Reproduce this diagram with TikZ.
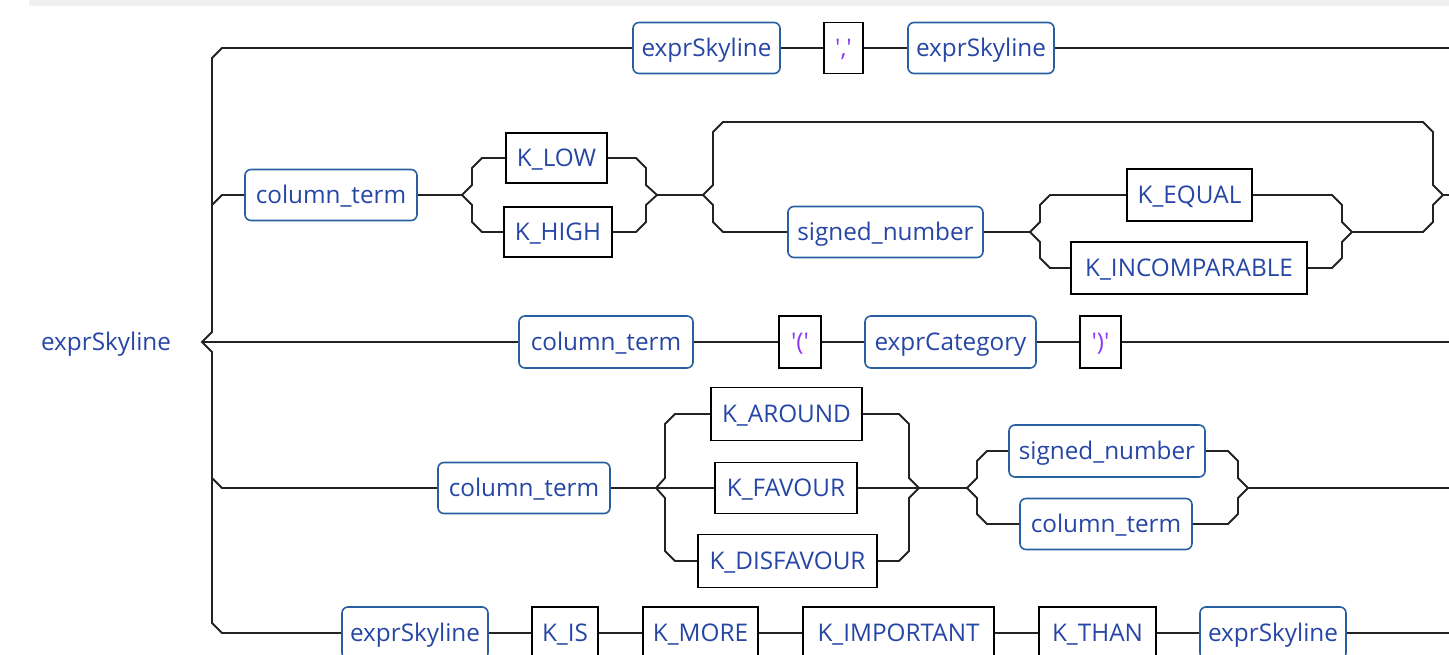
\documentclass[tikz,border=0pt]{standalone}
\usepackage{fontspec}
\setmainfont{Open Sans}
\newfontfamily\litfont{Open Sans}
\definecolor{txtblue}{RGB}{38,70,165}
\definecolor{ntborder}{RGB}{40,95,160}
\definecolor{litpurple}{RGB}{140,60,240}
\definecolor{railgray}{RGB}{35,35,35}
\definecolor{stripgray}{RGB}{240,240,240}
\begin{document}
\begin{tikzpicture}[x=1pt,y=-1pt,
  every node/.style={font=\fontsize{24.3}{28}\selectfont, text=txtblue, inner sep=0pt,
    text height=20pt, text depth=3pt},
  ntbox/.style={draw=ntborder, line width=1.6pt, rounded corners=6pt, minimum height=51pt},
  kwbox/.style={draw=black, line width=1.6pt, minimum height=51pt},
  litbox/.style={kwbox, text=litpurple, font=\fontsize{24.3}{28}\selectfont\litfont},
  rail/.style={draw=railgray, line width=1.9pt, line join=miter}
]
\useasboundingbox (0,0) rectangle (1449,655);
\fill[stripgray] (29,0) rectangle (1449,6);

% label
\node (lbl) at (106,342) {exprSkyline};

% row 1
\node[ntbox, minimum width=147pt] (n1) at (706.5,48) {exprSkyline};
\node[litbox, minimum width=39pt] (t1) at (843.5,48) {','};
\node[ntbox, minimum width=146pt] (n2) at (981,48) {exprSkyline};

% row 2
\node[ntbox, minimum width=172pt] (n3) at (331,195) {column\_term};
\node[kwbox, minimum width=101pt, minimum height=50pt] (k1) at (556.5,158) {K\_LOW};
\node[kwbox, minimum width=108pt, minimum height=50pt] (k2) at (558,232) {K\_HIGH};
\node[ntbox, minimum width=195pt] (n4) at (885.5,232) {signed\_number};
\node[kwbox, minimum width=125pt, minimum height=52pt] (k3) at (1189.5,195) {K\_EQUAL};
\node[kwbox, minimum width=236pt, minimum height=52pt] (k4) at (1189,268) {K\_INCOMPARABLE};

% row 3
\node[ntbox, minimum width=174pt, minimum height=52pt] (n5) at (606,342) {column\_term};
\node[litbox, minimum width=42pt, minimum height=52pt] (t2) at (800,342) {'('};
\node[ntbox, minimum width=171pt, minimum height=52pt] (n6) at (950.5,342) {exprCategory};
\node[litbox, minimum width=41pt, minimum height=52pt] (t3) at (1100.5,342) {')'};

% row 4
\node[ntbox, minimum width=172pt] (n7) at (524,488) {column\_term};
\node[kwbox, minimum width=151pt, minimum height=53pt] (k5) at (786.5,414) {K\_AROUND};
\node[kwbox, minimum width=142pt] (k6) at (786,488) {K\_FAVOUR};
\node[kwbox, minimum width=179pt, minimum height=53pt] (k7) at (787.5,561) {K\_DISFAVOUR};
\node[ntbox, minimum width=196pt, minimum height=52pt] (n8) at (1107,451) {signed\_number};
\node[ntbox, minimum width=172pt] (n9) at (1106,524) {column\_term};

% row 5
\node[ntbox, minimum width=146pt, minimum height=52pt] (n10) at (415,633) {exprSkyline};
\node[kwbox, minimum width=66pt, minimum height=52pt] (k8) at (565,633) {K\_IS};
\node[kwbox, minimum width=115pt, minimum height=52pt] (k9) at (700.5,633) {K\_MORE};
\node[kwbox, minimum width=191pt, minimum height=52pt] (k10) at (898.5,633) {K\_IMPORTANT};
\node[kwbox, minimum width=117pt, minimum height=52pt] (k11) at (1097.5,633) {K\_THAN};
\node[ntbox, minimum width=146pt, minimum height=52pt] (n11) at (1273,633) {exprSkyline};

% coordinates
\coordinate (m) at (202,342);
\coordinate (e1) at (1449,48);
\coordinate (s2) at (462,195);
\coordinate (j2) at (657,195);
\coordinate (s3) at (703,195);
\coordinate (j3) at (1443,195);
\coordinate (e2) at (1449,195);
\coordinate (s4) at (1030,232);
\coordinate (j4) at (1352,232);
\coordinate (e3) at (1449,342);
\coordinate (s5) at (656,488);
\coordinate (j5) at (919,488);
\coordinate (s6) at (967,488);
\coordinate (j6) at (1248,488);
\coordinate (e4) at (1449,488);
\coordinate (e5) at (1449,633);

% main bracket
\path[rail] (n1.west) -- (222,48) -- (212,58) -- (212,332) -- (m) -- (212,352) -- (212,623) -- (222,633) -- (n10.west);
\path[rail] (212,205) -- (222,195) -- (n3.west);
\path[rail] (m) -- (n5.west);
\path[rail] (212,478) -- (222,488) -- (n7.west);

% row 1
\path[rail] (n1.east) -- (t1.west);
\path[rail] (t1.east) -- (n2.west);
\path[rail] (n2.east) -- (e1);

% row 2
\path[rail] (n3.east) -- (s2);
\path[rail] (s2) -- (472,185) -- (472,168) -- (482,158) -- (k1.west);
\path[rail] (s2) -- (472,205) -- (472,222) -- (482,232) -- (k2.west);
\path[rail] (k1.east) -- (636,158) -- (646,168) -- (646,185) -- (j2);
\path[rail] (k2.east) -- (636,232) -- (646,222) -- (646,205) -- (j2);
\path[rail] (j2) -- (s3);
\path[rail] (s3) -- (713,185) -- (713,132) -- (723,122) -- (1423,122) -- (1433,132) -- (1433,185) -- (j3);
\path[rail] (s3) -- (713,205) -- (713,222) -- (723,232) -- (n4.west);
\path[rail] (n4.east) -- (s4);
\path[rail] (s4) -- (1040,222) -- (1040,205) -- (1050,195) -- (k3.west);
\path[rail] (s4) -- (1040,242) -- (1040,258) -- (1050,268) -- (k4.west);
\path[rail] (k3.east) -- (1332,195) -- (1342,205) -- (1342,222) -- (j4);
\path[rail] (k4.east) -- (1332,268) -- (1342,258) -- (1342,242) -- (j4);
\path[rail] (j4) -- (1423,232) -- (1433,222) -- (1433,205) -- (j3);
\path[rail] (j3) -- (e2);

% row 3
\path[rail] (n5.east) -- (t2.west);
\path[rail] (t2.east) -- (n6.west);
\path[rail] (n6.east) -- (t3.west);
\path[rail] (t3.east) -- (e3);

% row 4
\path[rail] (n7.east) -- (s5);
\path[rail] (s5) -- (665,478) -- (665,424) -- (675,414) -- (k5.west);
\path[rail] (s5) -- (k6.west);
\path[rail] (s5) -- (665,498) -- (665,551) -- (675,561) -- (k7.west);
\path[rail] (k5.east) -- (899,414) -- (909,424) -- (909,478) -- (j5);
\path[rail] (k6.east) -- (j5);
\path[rail] (k7.east) -- (899,561) -- (909,551) -- (909,498) -- (j5);
\path[rail] (j5) -- (s6);
\path[rail] (s6) -- (977,478) -- (977,461) -- (987,451) -- (n8.west);
\path[rail] (s6) -- (977,498) -- (977,514) -- (987,524) -- (n9.west);
\path[rail] (n8.east) -- (1228,451) -- (1238,461) -- (1238,478) -- (j6);
\path[rail] (n9.east) -- (1228,524) -- (1238,514) -- (1238,498) -- (j6);
\path[rail] (j6) -- (e4);

% row 5
\path[rail] (n10.east) -- (k8.west);
\path[rail] (k8.east) -- (k9.west);
\path[rail] (k9.east) -- (k10.west);
\path[rail] (k10.east) -- (k11.west);
\path[rail] (k11.east) -- (n11.west);
\path[rail] (n11.east) -- (e5);
\end{tikzpicture}
\end{document}
